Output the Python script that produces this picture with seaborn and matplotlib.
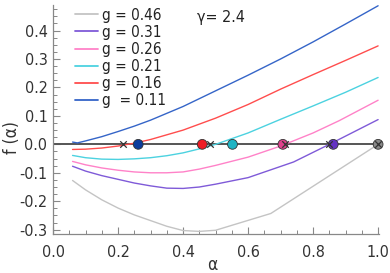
import matplotlib
matplotlib.use("Agg")
import matplotlib.pyplot as plt
import seaborn as sns
import pandas as pd
from matplotlib.ticker import MultipleLocator

# ---- data ----
g_labels = ["g = 0.46", "g = 0.31", "g = 0.26", "g = 0.21", "g = 0.16", "g  = 0.11"]
colors = ["#c4c4c4", "#7f5ad8", "#ff82c8", "#4cd2e0", "#ff4d4d", "#3565c8"]

alpha_g46 = [0.06, 0.10, 0.15, 0.20, 0.25, 0.30, 0.35, 0.40, 0.45, 0.50, 0.67, 1.00]
f_g46 = [-0.127, -0.160, -0.195, -0.224, -0.248, -0.268, -0.288, -0.303, -0.306, -0.302, -0.243, 0.000]

alpha_g31 = [0.06, 0.10, 0.15, 0.20, 0.25, 0.30, 0.35, 0.40, 0.45, 0.50, 0.60, 0.74, 0.85, 1.00]
f_g31 = [-0.077, -0.094, -0.110, -0.123, -0.136, -0.146, -0.154, -0.155, -0.150, -0.140, -0.117, -0.062, 0.000, 0.087]

alpha_g26 = [0.06, 0.10, 0.15, 0.20, 0.25, 0.30, 0.35, 0.40, 0.45, 0.50, 0.60, 0.70, 0.80, 0.88, 1.00]
f_g26 = [-0.060, -0.072, -0.083, -0.091, -0.097, -0.100, -0.100, -0.097, -0.087, -0.074, -0.045, -0.006, 0.040, 0.083, 0.155]

alpha_g21 = [0.06, 0.10, 0.15, 0.20, 0.25, 0.30, 0.35, 0.40, 0.45, 0.50, 0.60, 0.70, 0.80, 0.90, 1.00]
f_g21 = [-0.039, -0.047, -0.052, -0.053, -0.051, -0.047, -0.040, -0.030, -0.016, 0.000, 0.040, 0.088, 0.135, 0.183, 0.235]

alpha_g16 = [0.06, 0.10, 0.15, 0.20, 0.25, 0.30, 0.40, 0.50, 0.60, 0.70, 0.80, 0.90, 1.00]
f_g16 = [-0.018, -0.017, -0.013, -0.006, 0.004, 0.017, 0.050, 0.092, 0.140, 0.194, 0.245, 0.295, 0.346]

alpha_g11 = [0.06, 0.075, 0.10, 0.15, 0.20, 0.25, 0.30, 0.40, 0.50, 0.60, 0.70, 0.80, 0.90, 1.00]
f_g11 = [0.008, 0.005, 0.012, 0.027, 0.045, 0.064, 0.085, 0.133, 0.188, 0.243, 0.300, 0.360, 0.423, 0.487]

circle_alpha = [0.262, 0.459, 0.552, 0.707, 0.862, 1.0]
circle_colors = ["#0c3c9c", "#ee1c24", "#1fb4c4", "#e0408c", "#6432c4", "#8a8a8a"]
cross_alpha = [0.216, 0.483, 0.714, 0.849, 1.0]

# ---- build table ----
series = [(alpha_g46, f_g46), (alpha_g31, f_g31), (alpha_g26, f_g26),
          (alpha_g21, f_g21), (alpha_g16, f_g16), (alpha_g11, f_g11)]
rows = []
for lab, (a, f) in zip(g_labels, series):
    for ai, fi in zip(a, f):
        rows.append({"alpha": ai, "f": fi, "g": lab})
df = pd.DataFrame(rows)
circ_df = pd.DataFrame({"alpha": circle_alpha, "f": [0.0] * len(circle_alpha), "c": range(len(circle_alpha))})
cross_df = pd.DataFrame({"alpha": cross_alpha, "f": [0.0] * len(cross_alpha)})

sns.set_style("ticks")
plt.rcParams["font.family"] = ["DejaVu Sans"]
plt.rcParams["font.stretch"] = "condensed"

fig = plt.figure(figsize=(3.9, 2.73), dpi=100)
ax = fig.add_axes([0.136, 0.143, 0.836, 0.839])

ax.axhline(0, color="#555555", lw=1.4, zorder=1)
sns.lineplot(data=df, x="alpha", y="f", hue="g", palette=dict(zip(g_labels, colors)),
             hue_order=g_labels, sort=False, lw=1.0, ax=ax, zorder=2, estimator=None)
sns.scatterplot(data=circ_df, x="alpha", y="f", hue="c", palette=circle_colors,
                s=50, edgecolor="#333333", linewidth=0.6, ax=ax, zorder=4, legend=False)
sns.scatterplot(data=cross_df, x="alpha", y="f", marker="x", color="#333333",
                s=22, linewidth=0.9, ax=ax, zorder=5, legend=False)
for coll in ax.collections:
    coll.set_clip_on(False)

ax.set_xlim(0, 1.003)
ax.set_ylim(-0.315, 0.49)
ax.xaxis.set_minor_locator(MultipleLocator(0.05))
ax.yaxis.set_minor_locator(MultipleLocator(0.025))
ax.set_xticks([0, 0.2, 0.4, 0.6, 0.8, 1.0])
ax.set_xticklabels(["0.0", "0.2", "0.4", "0.6", "0.8", "1.0"])
ax.set_yticks([-0.3, -0.2, -0.1, 0.0, 0.1, 0.2, 0.3, 0.4])
ax.set_yticklabels(["-0.3", "-0.2", "-0.1", "0.0", "0.1", "0.2", "0.3", "0.4"])
ax.tick_params(which="both", direction="in", color="#888888", labelsize=11.5,
               labelcolor="#333333")
ax.tick_params(which="major", length=5, width=0.8)
ax.tick_params(which="minor", length=3, width=0.7)
ax.tick_params(axis="x", which="major", pad=8)
ax.tick_params(axis="y", which="major", pad=4)
for s in ["top", "right"]:
    ax.spines[s].set_visible(False)
for s in ["left", "bottom"]:
    ax.spines[s].set_color("#888888")
    ax.spines[s].set_linewidth(0.9)

ax.set_xlabel("")
ax.set_ylabel("")
fig.text(212 / 390, 1 - 265 / 273, "α", fontsize=12.5, color="#333333", ha="center", va="center")
fig.text(12 / 390, 1 - 138 / 273, "f (α)", fontsize=12.5, color="#333333", ha="center",
         va="center", rotation=90)
ax.text(0.443, 0.445, "γ= 2.4", fontsize=11.5, color="#222222", transform=ax.transData,
        va="center")

leg = ax.legend(loc="upper left", bbox_to_anchor=(0.05, 1.015), frameon=False,
                fontsize=11, handlelength=1.5, handletextpad=0.25, labelspacing=0.14,
                borderaxespad=0.0)
for t in leg.get_texts():
    t.set_color("#222222")
for l in leg.get_lines():
    l.set_linewidth(1.3)

fig.savefig("out.png", dpi=100)
